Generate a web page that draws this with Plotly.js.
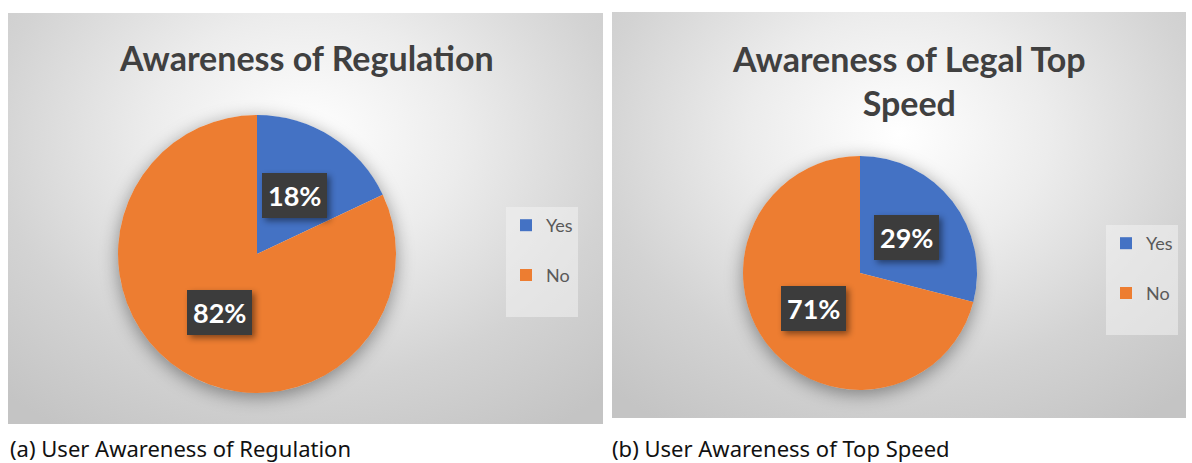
<!DOCTYPE html>
<html>
<head>
<meta charset="utf-8">
<script src="https://cdn.plot.ly/plotly-3.0.1.min.js"></script>
<style>
  html, body { margin:0; padding:0; background:#ffffff; }
  #wrap { position:relative; width:1192px; height:463px; overflow:hidden; }
  .panel { position:absolute; }
  #bg1 { left:8px; top:13px; width:595px; height:411px;
    background: radial-gradient(ellipse 75% 85% at 50% 30%, #ffffff 0%, #ececec 35%, #d3d3d3 70%, #c4c4c4 100%); }
  #bg2 { left:612px; top:12px; width:574px; height:406px;
    background: radial-gradient(ellipse 75% 85% at 50% 30%, #ffffff 0%, #ececec 35%, #d3d3d3 70%, #c4c4c4 100%); }
  .shadow { position:absolute; border-radius:50%; box-shadow: 0 4px 18px rgba(0,0,0,0.4); }
  #chart { position:absolute; left:0; top:0; width:1192px; height:463px; }
  g.annotation rect.bg[style*="rgb(60, 60, 60)"] { filter: drop-shadow(3px 3px 3px rgba(0,0,0,0.45)); }
</style>
</head>
<body>
<div id="wrap">
  <div class="panel" id="bg1"></div>
  <div class="panel" id="bg2"></div>
  <div class="shadow" id="sh1"></div>
  <div class="shadow" id="sh2"></div>
  <div id="chart"></div>
</div>
<script>
// ---- data ----
const categories = ['Yes', 'No'];
const regulationValues = [18, 82];
const topSpeedValues = [29, 71];
const chartTitles = ['Awareness of Regulation', 'Awareness of Legal Top<br>Speed'];
const captions = ['(a) User Awareness of Regulation', '(b) User Awareness of Top Speed'];
const sliceColors = ['#4472C4', '#ED7D31'];

// ---- geometry (layout only) ----
const W = 1192, H = 463;
const pies = [
  { cx: 257, cy: 254, r: 139, values: regulationValues, title: chartTitles[0], tx: 306, ty: 58,
    legend: 'legend', group: 'g1', lx: 506, ly: 207, capX: 8 },
  { cx: 860, cy: 273, r: 117, values: topSpeedValues, title: chartTitles[1], tx: 909, ty: 80,
    legend: 'legend2', group: 'g2', lx: 1106, ly: 225, capX: 610 }
];

['sh1','sh2'].forEach((id, i) => {
  const p = pies[i], el = document.getElementById(id);
  el.style.left = (p.cx - p.r) + 'px'; el.style.top = (p.cy - p.r) + 'px';
  el.style.width = (2*p.r) + 'px'; el.style.height = (2*p.r) + 'px';
});

const px = x => x / W;
const py = y => 1 - y / H;

const traces = [];
const annotations = [];
const layout = {
  width: W, height: H,
  margin: {l:0, r:0, t:0, b:0},
  paper_bgcolor: 'rgba(0,0,0,0)',
  plot_bgcolor: 'rgba(0,0,0,0)',
  showlegend: true,
  annotations: annotations
};

pies.forEach((p, i) => {
  const legendLabels = categories.map(c => c + '<br> ');
  traces.push({
    type: 'pie',
    labels: legendLabels,
    values: p.values,
    sort: false,
    direction: 'clockwise',
    rotation: 0,
    marker: { colors: sliceColors, line: { width: 0 } },
    textinfo: 'none',
    hoverinfo: 'label+percent',
    domain: { x: [px(p.cx - p.r), px(p.cx + p.r)], y: [py(p.cy + p.r), py(p.cy - p.r)] },
    legend: p.legend,
    legendgroup: p.group,
    showlegend: true
  });

  layout[p.legend] = {
    x: px(p.lx), y: py(p.ly), xanchor: 'left', yanchor: 'top',
    bgcolor: 'rgba(242,242,242,0.55)',
    borderwidth: 0,
    font: { family: 'Lato, "Open Sans", sans-serif', size: 18, color: '#595959' },
    valign: 'top',
    itemclick: false
  };

  // title
  annotations.push({
    xref: 'paper', yref: 'paper', x: px(p.tx), y: py(p.ty),
    xanchor: 'center', yanchor: 'middle', showarrow: false,
    text: '<b>' + p.title + '</b>',
    font: { family: 'Lato, "Open Sans", sans-serif', size: 34, color: '#404040' }
  });

  // caption
  annotations.push({
    xref: 'paper', yref: 'paper', x: px(p.capX), y: py(448),
    xanchor: 'left', yanchor: 'middle', showarrow: false,
    text: captions[i],
    font: { family: '"Noto Sans", "DejaVu Sans", sans-serif', size: 22, color: '#111111' }
  });

  // data labels: percentage boxes placed along each slice's mid angle
  const total = p.values.reduce((a, b) => a + b, 0);
  let cum = 0;
  p.values.forEach(v => {
    const mid = (cum + v / 2) / total * 2 * Math.PI;
    cum += v;
    const d = p.r * 0.5;
    const lxp = p.cx + d * Math.sin(mid);
    const lyp = p.cy - d * Math.cos(mid);
    annotations.push({
      xref: 'paper', yref: 'paper', x: px(lxp), y: py(lyp),
      xanchor: 'center', yanchor: 'middle', showarrow: false,
      text: '<b>' + Math.round(v / total * 100) + '%</b>',
      bgcolor: '#3c3c3c', borderpad: 6, borderwidth: 0,
      font: { family: 'Lato, "Open Sans", sans-serif', size: 27, color: '#ffffff' }
    });
  });
});

Plotly.newPlot('chart', traces, layout, { staticPlot: true, displayModeBar: false });
</script>
</body>
</html>
